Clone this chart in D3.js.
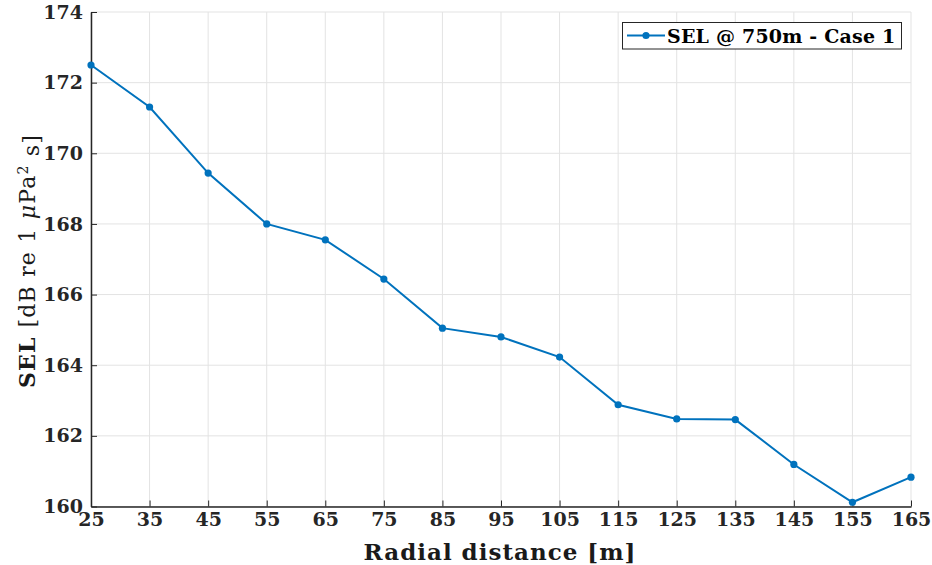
<!DOCTYPE html>
<html>
<head>
<meta charset="utf-8">
<script src="https://cdn.jsdelivr.net/npm/d3@7"></script>
<style>
  html, body { margin: 0; padding: 0; background: #fff; }
  svg { display: block; }
</style>
</head>
<body>
<svg id="chart" width="932" height="565"></svg>
<script>
// Radial distance (m) and sound exposure level (dB re 1 µPa² s)
const distances = [25, 35, 45, 55, 65, 75, 85, 95, 105, 115, 125, 135, 145, 155, 165];
const selValues = [172.50, 171.31, 169.44, 168.00, 167.55, 166.44, 165.05, 164.80, 164.23,
                   162.88, 162.48, 162.46, 161.19, 160.12, 160.83];
const xTicks = [25, 35, 45, 55, 65, 75, 85, 95, 105, 115, 125, 135, 145, 155, 165];
const yTicks = [160, 162, 164, 166, 168, 170, 172, 174];
const seriesName = "SEL @ 750m - Case 1";

(function () {
const svg = d3.select("#chart");
const plotLeft = 91, plotRight = 911, plotTop = 12, plotBottom = 506.5;
const serif = "DejaVu Serif, serif";
const axisColor = "#262626";
const lineColor = "#0072BD";

const x = d3.scaleLinear().domain([25, 165]).range([plotLeft, plotRight]);
const y = d3.scaleLinear().domain([160, 174]).range([plotBottom, plotTop]);

// grid
const grid = svg.append("g").attr("stroke", "#e3e3e3").attr("stroke-width", 1);
grid.selectAll("line.v").data(xTicks).join("line")
  .attr("x1", d => x(d)).attr("x2", d => x(d))
  .attr("y1", plotTop).attr("y2", plotBottom);
grid.selectAll("line.h").data(yTicks).join("line")
  .attr("x1", plotLeft).attr("x2", plotRight)
  .attr("y1", d => y(d)).attr("y2", d => y(d));

// axes
const xAxis = d3.axisBottom(x).tickValues(xTicks).tickSizeInner(-6).tickSizeOuter(0).tickPadding(9);
const yAxis = d3.axisLeft(y).tickValues(yTicks).tickSizeInner(-6).tickSizeOuter(0).tickPadding(9);

const gx = svg.append("g").attr("transform", `translate(0,${plotBottom})`).call(xAxis);
const gy = svg.append("g").attr("transform", `translate(${plotLeft},0)`).call(yAxis);
[gx, gy].forEach(g => {
  g.select(".domain").attr("stroke", axisColor).attr("stroke-width", 1.5);
  g.selectAll(".tick line").attr("stroke", axisColor).attr("stroke-width", 1);
  g.selectAll(".tick text")
    .attr("fill", axisColor)
    .style("font-family", serif)
    .style("font-weight", "bold")
    .style("font-size", "19px");
});
gx.selectAll(".tick text").attr("dy", "0.55em");
gy.selectAll(".tick text").attr("dx", "1px");

// line and markers
const line = d3.line().x((d, i) => x(distances[i])).y(d => y(d));
svg.append("path")
  .datum(selValues)
  .attr("d", line)
  .attr("fill", "none")
  .attr("stroke", lineColor)
  .attr("stroke-width", 2);
svg.append("g").selectAll("circle").data(selValues).join("circle")
  .attr("cx", (d, i) => x(distances[i]))
  .attr("cy", d => y(d))
  .attr("r", 3.6)
  .attr("fill", lineColor);

// axis titles
svg.append("text")
  .attr("x", 500)
  .attr("y", 560)
  .attr("text-anchor", "middle")
  .attr("fill", "#1a1a1a")
  .style("font-family", serif)
  .style("font-size", "23px")
  .style("font-weight", 600)
  .style("letter-spacing", "1px")
  .text("Radial distance [m]");

const yLabel = svg.append("text")
  .attr("transform", `translate(35,261) rotate(-90)`)
  .attr("text-anchor", "middle")
  .attr("fill", "#1a1a1a")
  .style("font-family", serif)
  .style("font-size", "22px")
  .style("letter-spacing", "1.2px");
yLabel.append("tspan").style("font-weight", "bold").text("SEL ");
yLabel.append("tspan").text("[dB re 1 ");
yLabel.append("tspan").style("font-style", "italic").text("μ");
yLabel.append("tspan").text("Pa");
yLabel.append("tspan").attr("dy", "-0.5em").style("font-size", "14px").text("2");
yLabel.append("tspan").attr("dy", "0.5em").text(" s]");

// legend
const lg = svg.append("g");
lg.append("rect")
  .attr("x", 622.5).attr("y", 22.5).attr("width", 279).attr("height", 26.5)
  .attr("fill", "#fff").attr("stroke", axisColor).attr("stroke-width", 1);
lg.append("line")
  .attr("x1", 627).attr("x2", 665).attr("y1", 35.5).attr("y2", 35.5)
  .attr("stroke", lineColor).attr("stroke-width", 2);
lg.append("circle").attr("cx", 646).attr("cy", 35.5).attr("r", 3.6).attr("fill", lineColor);
lg.append("text")
  .attr("x", 667).attr("y", 42.5)
  .attr("fill", "#000")
  .style("font-family", serif)
  .style("font-weight", "bold")
  .style("font-size", "19px")
  .style("letter-spacing", "0.2px")
  .text(seriesName);
})();
</script>
</body>
</html>
